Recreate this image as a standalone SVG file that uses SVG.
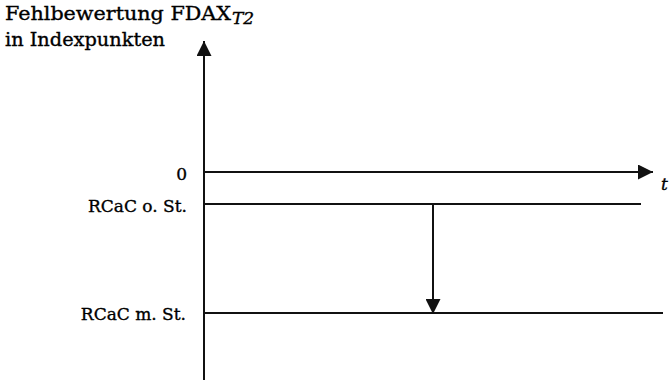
<svg xmlns="http://www.w3.org/2000/svg" width="669" height="380" viewBox="0 0 669 380">
<defs>
<style>
text{font-family:"DejaVu Serif","Liberation Serif",serif;font-size:17px;fill:#000;stroke:#000;stroke-width:0.35}
.ttl{font-size:19px}
.ln{stroke:#111;stroke-width:2;fill:none}
</style>
<marker id="ah" viewBox="0 0 10 10" refX="10" refY="5" markerWidth="15" markerHeight="15" markerUnits="userSpaceOnUse" orient="auto"><path d="M0,0 L10,5 L0,10 Z" fill="#111"/></marker>
</defs>
<rect width="669" height="380" fill="#fff"/>
<g id="title">
<text class="ttl" x="5" y="20" textLength="226" lengthAdjust="spacingAndGlyphs">Fehlbewertung FDAX</text>
<text x="232" y="24" font-size="13" font-style="italic">T2</text>
<text class="ttl" x="5" y="46" textLength="160" lengthAdjust="spacingAndGlyphs">in Indexpunkten</text>
</g>
<g id="labels">
<text x="187" y="180" text-anchor="end">0</text>
<text x="187" y="212" text-anchor="end">RCaC o. St.</text>
<text x="186" y="320" text-anchor="end">RCaC m. St.</text>
<text x="661" y="190" font-style="italic">t</text>
</g>
<g id="connectors">
<line class="ln" x1="204" y1="380" x2="204" y2="41" marker-end="url(#ah)"/>
<line class="ln" x1="204" y1="172" x2="653" y2="172" marker-end="url(#ah)"/>
<line class="ln" x1="204" y1="204" x2="641" y2="204"/>
<line class="ln" x1="204" y1="313" x2="663" y2="313"/>
<line class="ln" x1="433" y1="204" x2="433" y2="314" marker-end="url(#ah)"/>
</g>
</svg>
